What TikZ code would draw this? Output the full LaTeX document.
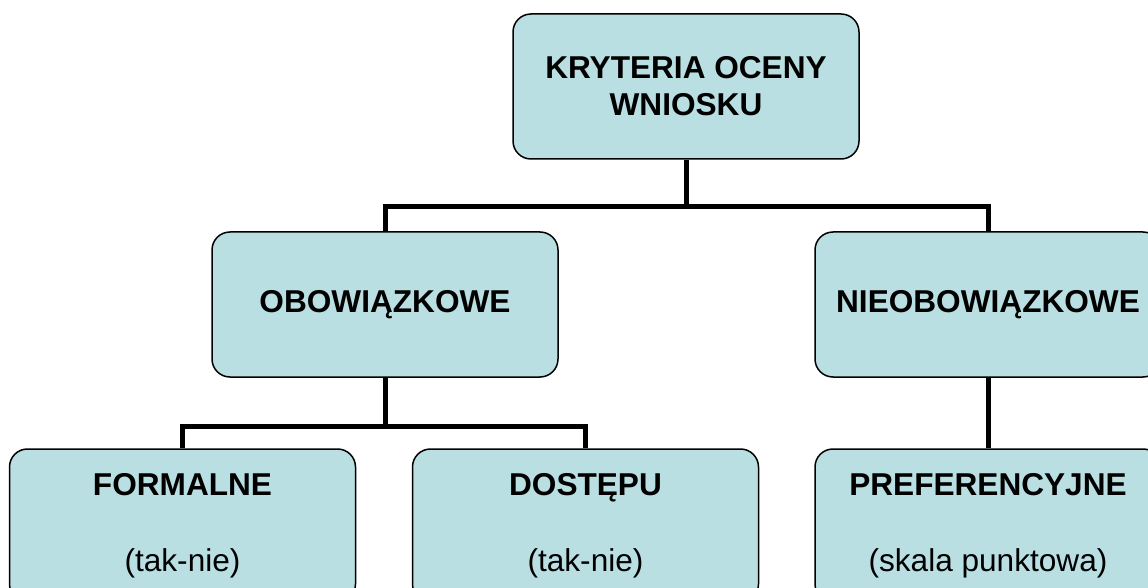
\documentclass[tikz,border=0pt]{standalone}
\usepackage{fontspec}
\setmainfont{Liberation Sans}
\usetikzlibrary{positioning}
\definecolor{boxfill}{RGB}{185,223,227}
\tikzset{box/.style={draw,line width=1.5pt,fill=boxfill,rounded corners=18pt,
  minimum width=346pt, minimum height=145pt, inner sep=0pt, align=center,
  font=\fontsize{31.6}{37}\selectfont}}
\tikzset{low/.style={box,minimum height=153pt}}
\tikzset{ln/.style={line width=5pt}}

\begin{document}
\begin{tikzpicture}[x=1pt,y=1pt]
\clip (0,0) rectangle (1148,587);
\useasboundingbox (0,0) rectangle (1148,587);
\begin{scope}[on grid]
\node[box] (kryt) at (686, 500.5) {\textbf{KRYTERIA OCENY}\\\textbf{WNIOSKU}};
\node[box] (obow) [below left = 218pt and 301pt of kryt] {\textbf{OBOWIĄZKOWE}};
\node[box] (nieob) [below right = 218pt and 302pt of kryt] {\textbf{NIEOBOWIĄZKOWE}};
\node[low] (form) [below left = 221pt and 202.5pt of obow] {\textbf{FORMALNE}\\[39pt](tak-nie)};
\node[low] (dost) [below right = 221pt and 200.5pt of obow] {\textbf{DOSTĘPU}\\[39pt](tak-nie)};
\node[low] (pref) [below = 221pt of nieob] {\textbf{PREFERENCYJNE}\\[39pt](skala punktowa)};
\end{scope}

\coordinate (top) at (686, 380);
\coordinate (mid) at (385, 161);

\draw[ln] (kryt.south) -- (top);
\draw[ln] (obow.north) |- (top) -| (nieob.north);

\draw[ln] (obow.south) -- (mid);
\draw[ln] (form.north) |- (mid) -| (dost.north);

\draw[ln] (nieob.south) -- (pref.north);
\end{tikzpicture}
\end{document}
